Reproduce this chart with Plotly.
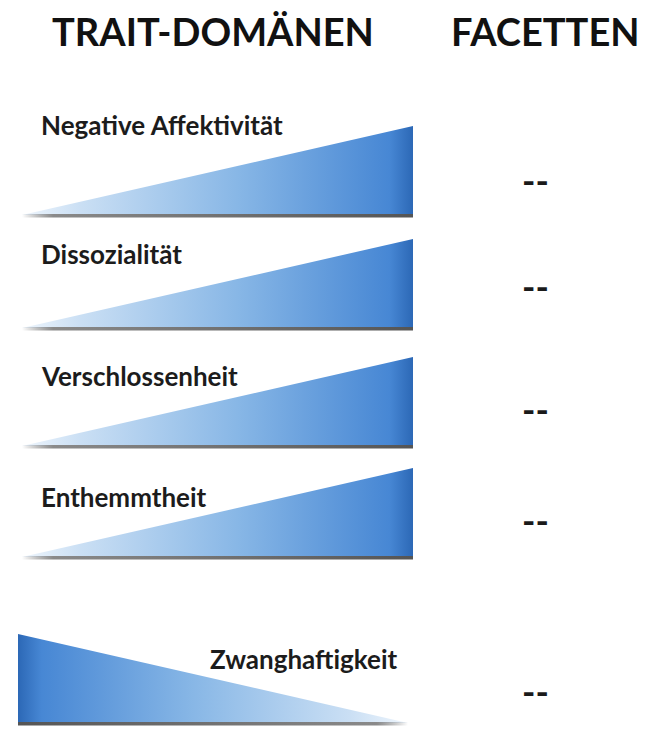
import plotly.graph_objects as go

# ---- data ----
headers = ["TRAIT-DOMÄNEN", "FACETTEN"]
domains = ["Negative Affektivität", "Dissozialität", "Verschlossenheit", "Enthemmtheit", "Zwanghaftigkeit"]
direction = ["up", "up", "up", "up", "down"]
facets = ["--", "--", "--", "--", "--"]

# ---- layout (screen pixel space; page body has an 8px margin) ----
W, H = 652, 729
OFF = 8
row_base = [215, 328, 446, 557, 723]
label_y = [125, 254, 376, 497, 659]
facet_y = [180, 286, 409, 520, 691]
TRI_H = 89
X0, X1 = 22, 413
FACET_X = 535

blue_scale = [[0.0, "#eef5fc"], [0.15, "#cadff4"], [0.55, "#88b7e6"],
              [0.94, "#4787d4"], [1.0, "#2c68b6"]]
shadow_scale = [[0.0, "rgba(110,110,110,0)"], [0.08, "#8a8a8a"], [1.0, "#555555"]]

fig = go.Figure()

for i, (name, d) in enumerate(zip(domains, direction)):
    b = row_base[i]
    if d == "up":
        xs = [X0, X1, X1, X0]
        ys = [b, b - TRI_H, b, b]
        cs = blue_scale
        sc = shadow_scale
    else:
        xs = [X0 - 4, X0 - 4, X1 - 5, X0 - 4]
        ys = [b, b - TRI_H, b, b]
        cs = [[1 - p, c] for p, c in reversed(blue_scale)]
        sc = [[1 - p, c] for p, c in reversed(shadow_scale)]
    fig.add_trace(go.Scatter(
        x=xs, y=ys, mode="lines", fill="toself", line=dict(width=0),
        fillgradient=dict(type="horizontal", colorscale=cs),
        hoverinfo="skip", showlegend=False))
    # bottom shadow line
    sx0, sx1 = min(xs), max(xs)
    fig.add_trace(go.Scatter(
        x=[sx0, sx1, sx1, sx0, sx0], y=[b - 1, b - 1, b + 2.5, b + 2.5, b - 1],
        mode="lines", fill="toself", line=dict(width=0),
        fillgradient=dict(type="horizontal", colorscale=sc),
        hoverinfo="skip", showlegend=False))

    if d == "up":
        fig.add_annotation(x=39, y=label_y[i], text=f"<b>{name}</b>", showarrow=False,
                           xanchor="left", yanchor="middle",
                           font=dict(family="Lato", size=26, color="#1c1c1c"))
    else:
        fig.add_annotation(x=399, y=label_y[i], text=f"<b>{name}</b>", showarrow=False,
                           xanchor="right", yanchor="middle",
                           font=dict(family="Lato", size=26, color="#1c1c1c"))
    fig.add_annotation(x=FACET_X, y=facet_y[i], text=f"<b>{facets[i]}</b>", showarrow=False,
                       xanchor="center", yanchor="middle",
                       font=dict(family="Lato", size=36, color="#1a1a1a"))

fig.add_annotation(x=213, y=31, text=f"<b>{headers[0]}</b>", showarrow=False,
                   xanchor="center", yanchor="middle",
                   font=dict(family="Lato", size=38, color="#111111"))
fig.add_annotation(x=545, y=31, text=f"<b>{headers[1]}</b>", showarrow=False,
                   xanchor="center", yanchor="middle",
                   font=dict(family="Lato", size=38, color="#111111"))

fig.update_layout(
    width=W, height=H, margin=dict(l=0, r=0, t=0, b=0),
    paper_bgcolor="white", plot_bgcolor="white",
    xaxis=dict(range=[OFF, W + OFF], visible=False, fixedrange=True),
    yaxis=dict(range=[H + OFF, OFF], visible=False, fixedrange=True),
    showlegend=False,
)

fig.write_html("out.html")
